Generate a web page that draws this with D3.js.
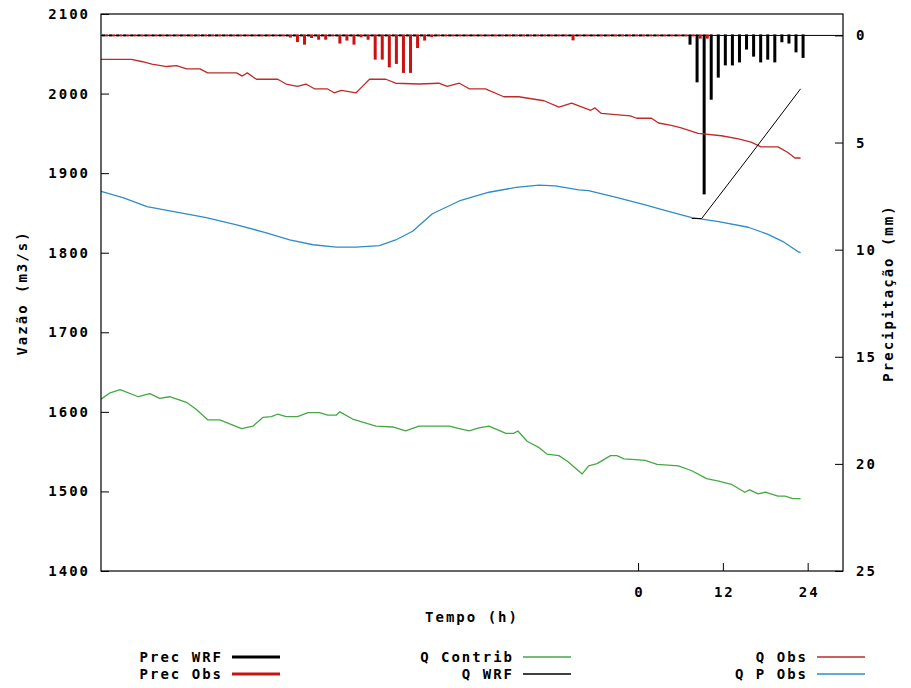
<!DOCTYPE html>
<html><head><meta charset="utf-8">
<script src="https://cdn.jsdelivr.net/npm/d3@7"></script>
<style>
body{margin:0;background:#fff}
text{font-family:"DejaVu Sans Mono",monospace;font-weight:bold;font-size:14px;letter-spacing:2px;fill:#000}
</style>
</head><body><svg id="c" width="911" height="688"></svg>
<script>
// ---------- DATA ----------
const yTicks = [1400,1500,1600,1700,1800,1900,2000,2100];
const y2Ticks = [0,5,10,15,20,25];
const xTicks = [0,12,24];

// Q Obs [hour, m3/s]
const qObs = [[-76,2043],[-71.7,2043],[-70.1,2040],[-68.8,2037],[-66.7,2034],[-65.3,2035],[-63.9,2031],[-62.0,2031],[-60.9,2026],[-56.8,2026],[-56.0,2022],[-55.3,2026],[-54.0,2018],[-51.0,2018],[-49.8,2012],[-48.2,2009],[-47.0,2012],[-45.8,2006],[-44.0,2006],[-43.0,2001],[-42.0,2004],[-39.9,2001],[-39.0,2009],[-38.0,2018],[-35.7,2018],[-34.3,2013],[-31.0,2012],[-28.2,2013],[-27.0,2009],[-25.3,2013],[-23.9,2006],[-21.6,2006],[-19.0,1996],[-16.9,1996],[-13.3,1991],[-11.2,1983],[-9.4,1988],[-6.7,1979],[-6.1,1982],[-5.2,1975],[-1.1,1972],[-0.2,1969],[1.9,1969],[2.9,1963],[4.7,1960],[6.1,1957],[8.5,1950],[11.8,1947],[14.2,1943],[16.0,1939],[17.4,1933],[19.8,1933],[21.2,1926],[22.2,1919],[23.0,1919]];

// Q P Obs
const qPObs = [[-76,1877],[-72.8,1869],[-69.5,1858],[-65.3,1851],[-61.1,1844],[-56.8,1835],[-52.6,1825],[-49.3,1816],[-46.0,1810],[-42.7,1807],[-39.9,1807],[-36.6,1809],[-34.3,1816],[-31.9,1827],[-29.1,1849],[-25.3,1865],[-21.1,1876],[-17.3,1882],[-14.0,1885],[-11.7,1884],[-8.4,1879],[-7.0,1878],[-2.8,1869],[1.0,1860],[4.3,1852],[7.6,1844],[11.4,1839],[15.6,1832],[18.4,1823],[20.5,1814],[22.7,1801],[23.0,1800]];

// Q Contrib
const qContrib = [[-76,1616],[-74.7,1624],[-73.3,1628],[-70.7,1619],[-69.1,1623],[-67.7,1617],[-66.3,1619],[-63.9,1612],[-62.5,1603],[-60.9,1590],[-59.2,1590],[-56.1,1579],[-54.5,1582],[-53.1,1593],[-51.9,1594],[-51.0,1597],[-49.8,1594],[-48.2,1594],[-46.7,1599],[-45.1,1599],[-43.9,1596],[-42.7,1596],[-42.2,1600],[-40.4,1591],[-37.1,1582],[-34.7,1581],[-32.9,1576],[-31.0,1582],[-28.6,1582],[-26.7,1582],[-25.3,1579],[-23.9,1576],[-22.5,1580],[-21.1,1582],[-18.7,1573],[-17.6,1573],[-17.0,1576],[-15.7,1563],[-14.0,1555],[-12.9,1547],[-11.2,1545],[-10.0,1538],[-7.9,1522],[-7.0,1532],[-5.8,1535],[-3.9,1545],[-3.0,1545],[-2.0,1541],[-0.4,1540],[1.0,1539],[2.7,1534],[5.7,1532],[7.6,1526],[9.7,1516],[11.4,1513],[13.2,1509],[15.1,1499],[15.8,1502],[17.0,1497],[18.0,1499],[19.8,1494],[20.8,1494],[21.9,1491],[23.0,1491]];

// Q WRF
const qWrf = [[7.6,1843],[9.0,1843],[16.0,1924],[23.0,2006]];

// Precipitation (mm), hourly
const precWrfHours = d3.range(-76, 24).map(h => h + 0.35);
const precWrf = [
0,0,0,0,0,0,0,0,0,0, 0,0,0,0,0,0,0,0,0,0,
0,0,0,0,0,0,0,0,0,0, 0,0,0,0,0,0,0,0,0,0,
0,0,0,0,0,0,0,0,0,0, 0,0,0,0,0,0,0,0,0,0,
0,0,0,0,0,0,0,0,0,0, 0,0,0,0,0,0,0,0,0,0,
0,0,0,
0.43,2.19,7.42,3.0,1.97,1.40,1.40,1.26,0.66,0.99,1.26,1.13,1.26,0.32,0.38,0.79,1.05];

const precObsHours = d3.range(-76, 11).map(h => h - 0.2);
const precObs = [
0,0,0,0,0,0,0,0,0,0, 0,0,0,0,0,0,0,0,0,0, 0,0,0,0,0,0,0,
0.1,0.31,0.43,0.12,0.2,0.2,0,0.38,0.24,0.43,0.09,0.2,1.13,1.13,1.49,1.33,1.75,1.75,0.59,0.24,0.08,
0,0,0,0,0,0,0,0,0,0, 0,0,0,0,0,0,0,0,0,
0.23,
0,0,0,0,0,0,0,0,0,0, 0,0,0,0,0,0,0,
0.15,0.15];

// ---------- CHART ----------
const svg = d3.select("#c");
const L = 101, R = 843, T = 14, B = 571;
const x = d3.scaleLinear().domain([-76, 29]).range([L, R]);
const y = d3.scaleLinear().domain([1400, 2100]).range([B, T]);
const y2 = d3.scaleLinear().domain([-1, 25]).range([T, B]);

svg.append("defs").append("clipPath").attr("id","clip")
  .append("rect").attr("x",L).attr("y",T).attr("width",R-L).attr("height",B-T);

const gAxL = svg.append("g").attr("transform",`translate(${L},0)`)
  .call(d3.axisLeft(y).tickValues(yTicks).tickSize(-8).tickPadding(11).tickFormat(d3.format("d")));
const gAxR = svg.append("g").attr("transform",`translate(${R},0)`)
  .call(d3.axisRight(y2).tickValues(y2Ticks).tickSize(-8).tickPadding(13).tickFormat(d3.format("d")));
const gAxB = svg.append("g").attr("transform",`translate(0,${B})`)
  .call(d3.axisBottom(x).tickValues(xTicks).tickSize(-8).tickPadding(16).tickFormat(d3.format("d")));
[gAxL,gAxR,gAxB].forEach(g=>{
  g.select(".domain").remove();
  g.selectAll("line").attr("stroke","#000");
  g.selectAll("text").attr("font-size",null).attr("font-family",null).attr("fill","#000");
  g.attr("font-size",null).attr("font-family",null);
});
gAxB.selectAll("text").attr("dx","1px");

const plot = svg.append("g").attr("clip-path","url(#clip)");

// zero line of precipitation
plot.append("line").attr("x1",L).attr("x2",R).attr("y1",y2(0)).attr("y2",y2(0))
  .attr("stroke","#000").attr("stroke-width",1);

function bars(hours, vals, color){
  plot.append("g").selectAll("rect").data(vals).join("rect")
    .attr("x",(d,i)=>x(hours[i])-1.5)
    .attr("y",y2(0)-1)
    .attr("width",3)
    .attr("height",d=>Math.max(2, y2(d)-y2(0)+1))
    .attr("fill",color);
}
bars(precObsHours, precObs, "#cc1111");
bars(precWrfHours, precWrf, "#000");

const line = d3.line().x(d=>x(d[0])).y(d=>y(d[1]));
function series(data,color,w){
  plot.append("path").datum(data).attr("d",line)
    .attr("fill","none").attr("stroke",color).attr("stroke-width",w).attr("stroke-linejoin","round");
}
series(qContrib,"#45a845",1.3);
series(qPObs,"#2f8cc6",1.3);
series(qObs,"#bf2a2a",1.3);
series(qWrf,"#000",1);

// frame
svg.append("rect").attr("x",L).attr("y",T).attr("width",R-L).attr("height",B-T)
  .attr("fill","none").attr("stroke","#000").attr("stroke-width",1.2);

// axis titles
svg.append("text").attr("transform","translate(27,293) rotate(-90)").attr("text-anchor","middle").text("Vazão (m3/s)");
svg.append("text").attr("transform","translate(893,293) rotate(-90)").attr("text-anchor","middle").text("Precipitação (mm)");
svg.append("text").attr("x",472).attr("y",622).attr("text-anchor","middle").text("Tempo (h)");

// legend
const legend = [
  {t:"Prec WRF", c:"#000", w:3, xe:221, row:0},
  {t:"Prec Obs", c:"#cc1111", w:3, xe:221, row:1},
  {t:"Q Contrib", c:"#45a845", w:1.3, xe:512, row:0},
  {t:"Q WRF", c:"#000", w:1.3, xe:512, row:1},
  {t:"Q Obs", c:"#bf2a2a", w:1.3, xe:806, row:0},
  {t:"Q P Obs", c:"#2f8cc6", w:1.3, xe:806, row:1}
];
const lg = svg.append("g");
legend.forEach(d=>{
  const yy = 657 + d.row*17;
  lg.append("text").attr("x",d.xe+2).attr("y",yy+5).attr("text-anchor","end").text(d.t);
  lg.append("line").attr("x1",d.xe+11).attr("x2",d.xe+59).attr("y1",yy).attr("y2",yy)
    .attr("stroke",d.c).attr("stroke-width",d.w);
});
</script>
</body></html>
